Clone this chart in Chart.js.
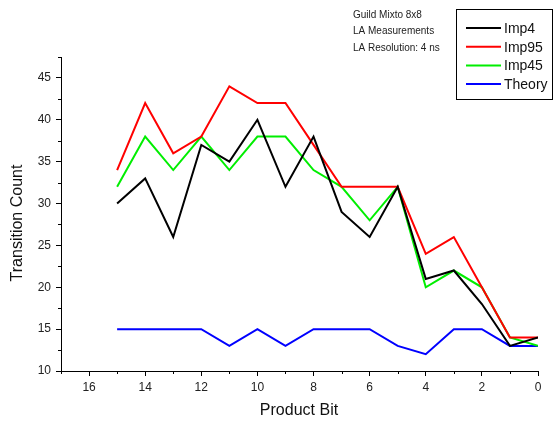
<!DOCTYPE html>
<html>
<head>
<meta charset="utf-8">
<script src="https://cdn.jsdelivr.net/npm/chart.js@4/dist/chart.umd.min.js"></script>
<style>
  html, body { margin: 0; padding: 0; background: #fff; }
  #wrap { width: 553px; height: 422px; }
</style>
</head>
<body>
<div id="wrap"><canvas id="c" width="553" height="422"></canvas></div>
<script>
// Product bit positions (x) and transition counts per implementation
const bits    = [15, 14, 13, 12, 11, 10, 9, 8, 7, 6, 5, 4, 3, 2, 1, 0];
const imp4    = [30, 33, 26, 37, 35, 40, 32, 38, 29, 26, 32, 21, 22, 18, 13, 14];
const imp95   = [34, 42, 36, 38, 44, 42, 42, 37, 32, 32, 32, 24, 26, 20, 14, 14];
const imp45   = [32, 38, 34, 38, 34, 38, 38, 34, 32, 28, 32, 20, 22, 20, 14, 13];
const theory  = [15, 15, 15, 15, 13, 15, 13, 15, 15, 15, 13, 12, 15, 15, 13, 13];

const seriesNames  = ['Imp4', 'Imp95', 'Imp45', 'Theory'];
const seriesColors = ['#000000', '#ff0000', '#00ee00', '#0000ff'];
const notes = ['Guild Mixto 8x8', 'LA Measurements', 'LA Resolution: 4 ns'];

const FONT = '"Liberation Sans", Arial, sans-serif';

function pts(vals) { return bits.map((b, i) => ({ x: b, y: vals[i] })); }

const allSeries = [imp4, imp95, imp45, theory];

// Minor ticks, axis titles, notes and the boxed legend
const decor = {
  id: 'decor',
  afterDraw(chart) {
    const ctx = chart.ctx;
    const xs = chart.scales.x, ys = chart.scales.y;
    const a = chart.chartArea;
    ctx.save();
    ctx.strokeStyle = '#000';
    ctx.lineWidth = 1;
    // x minor ticks every 1
    for (let v = 1; v <= 17; v += 2) {
      const px = Math.round(xs.getPixelForValue(v)) + 0.5;
      ctx.beginPath(); ctx.moveTo(px, a.bottom); ctx.lineTo(px, a.bottom + 3); ctx.stroke();
    }
    // y minor ticks every 2.5
    for (let v = 12.5; v <= 47.5; v += 5) {
      const py = Math.round(ys.getPixelForValue(v)) + 0.5;
      ctx.beginPath(); ctx.moveTo(a.left, py); ctx.lineTo(a.left - 3, py); ctx.stroke();
    }
    // axis titles
    ctx.fillStyle = '#111';
    ctx.font = '16px ' + FONT;
    ctx.textAlign = 'center';
    ctx.textBaseline = 'middle';
    ctx.fillText('Product Bit', 299, 411);
    ctx.save();
    ctx.translate(18, 223);
    ctx.rotate(-Math.PI / 2);
    ctx.fillText('Transition Count', 0, 0);
    ctx.restore();
    // notes
    ctx.font = '10px ' + FONT;
    ctx.textAlign = 'left';
    ctx.fillStyle = '#222';
    notes.forEach((t, i) => ctx.fillText(t, 353, 15 + i * 16.5));
    // legend box
    ctx.strokeStyle = '#000';
    ctx.lineWidth = 1;
    ctx.strokeRect(456.5, 9.5, 96, 90);
    ctx.font = '14px ' + FONT;
    seriesNames.forEach((n, i) => {
      const y = 28 + i * 18.7;
      ctx.strokeStyle = seriesColors[i];
      ctx.lineWidth = 2;
      ctx.beginPath(); ctx.moveTo(466, y); ctx.lineTo(501, y); ctx.stroke();
      ctx.fillStyle = '#111';
      ctx.fillText(n, 504, y + 1);
    });
    ctx.restore();
  }
};

new Chart(document.getElementById('c'), {
  type: 'line',
  data: {
    datasets: allSeries.map((vals, i) => ({
      label: seriesNames[i],
      data: pts(vals),
      borderColor: seriesColors[i],
      borderWidth: 2,
      pointRadius: 0,
      fill: false,
      tension: 0
    }))
  },
  options: {
    responsive: false,
    animation: false,
    devicePixelRatio: 1,
    layout: { padding: { top: 57, right: 15, left: 0, bottom: 0 } },
    plugins: { legend: { display: false }, tooltip: { enabled: false } },
    scales: {
      x: {
        type: 'linear',
        reverse: true,
        min: 0, max: 17,
        afterFit(s) { s.height = 51; },
        grid: { drawOnChartArea: false, drawTicks: true, tickLength: 5, color: '#000' },
        border: { display: true, color: '#000', width: 1 },
        ticks: {
          stepSize: 2, includeBounds: false, padding: 4, maxRotation: 0,
          color: '#222', font: { family: FONT, size: 12 }
        }
      },
      y: {
        type: 'linear',
        min: 10, max: 47.5,
        afterFit(s) { s.width = 61; },
        grid: { drawOnChartArea: false, drawTicks: true, tickLength: 5, color: '#000' },
        border: { display: true, color: '#000', width: 1 },
        ticks: {
          stepSize: 5, includeBounds: false, padding: 5,
          color: '#222', font: { family: FONT, size: 12 }
        }
      }
    }
  },
  plugins: [decor]
});
</script>
</body>
</html>
